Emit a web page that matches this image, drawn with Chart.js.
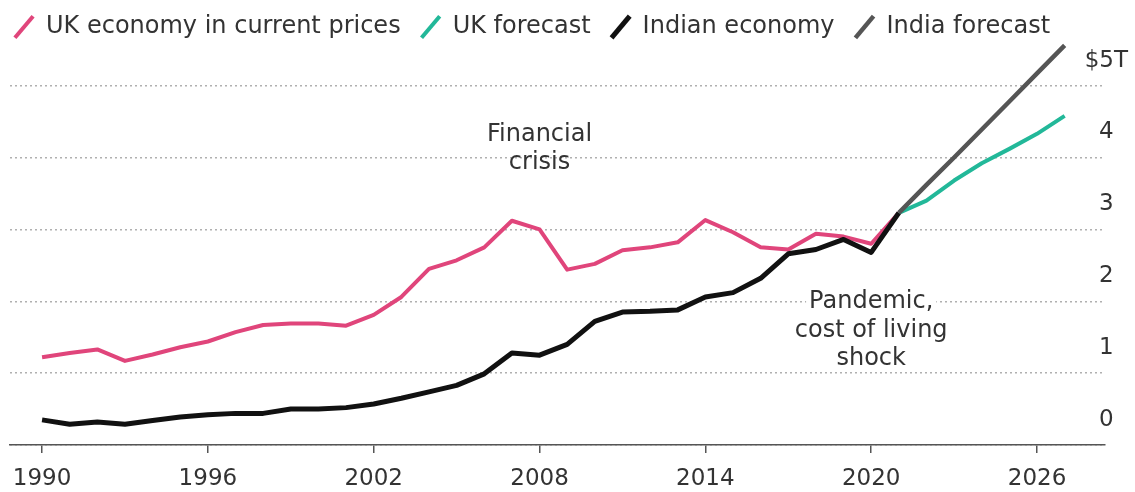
<!DOCTYPE html>
<html>
<head>
<meta charset="utf-8">
<script src="https://cdn.jsdelivr.net/npm/chart.js@4"></script>
<style>
  html, body { margin: 0; padding: 0; background: #fff; }
  #wrap { width: 1135px; height: 492px; }
</style>
</head>
<body>
<div id="wrap"><canvas id="c"></canvas></div>
<script>
// ---------- data ----------
const years = [1990,1991,1992,1993,1994,1995,1996,1997,1998,1999,2000,2001,2002,2003,2004,2005,2006,2007,2008,2009,2010,2011,2012,2013,2014,2015,2016,2017,2018,2019,2020,2021];
const ukValues = [1.22,1.28,1.33,1.17,1.26,1.36,1.44,1.57,1.67,1.69,1.69,1.66,1.81,2.06,2.45,2.57,2.75,3.12,3.00,2.44,2.52,2.71,2.75,2.82,3.13,2.96,2.75,2.72,2.94,2.90,2.80,3.23];
const indiaValues = [0.35,0.29,0.32,0.29,0.34,0.39,0.42,0.44,0.44,0.50,0.50,0.52,0.57,0.65,0.74,0.83,0.99,1.28,1.25,1.40,1.72,1.85,1.86,1.88,2.06,2.12,2.32,2.66,2.72,2.86,2.68,3.23];
const forecastYears = [2021,2022,2023,2024,2025,2026,2027];
const ukForecast = [3.23,3.40,3.68,3.92,4.12,4.33,4.58];
const indiaForecast = [3.23,3.62,4.00,4.39,4.78,5.17,5.56];
const seriesLabels = ['UK economy in current prices','UK forecast','Indian economy','India forecast'];
const xTickYears = [1990,1996,2002,2008,2014,2020,2026];
const yTickValues = [0,1,2,3,4,5];
const annotationLines = [['Financial','crisis'], ['Pandemic,','cost of living','shock']];

// ---------- styling / layout ----------
const FONT = "'DejaVu Sans', Verdana, sans-serif";
const TEXT = '#333333';
const annotationStyle = [
  { x: 2008, y: 4.32, background: false },
  { x: 2020, y: 1.99, background: true }
];

const toPoints = (xs, ys) => xs.map((x, i) => ({ x: x, y: ys[i] }));

const annotationPlugin = {
  id: 'annotations',
  afterDatasetsDraw(chart) {
    const ctx = chart.ctx;
    const xs = chart.scales.x, ys = chart.scales.y;
    const lineH = 28.5;
    ctx.save();
    ctx.font = '24px ' + FONT;
    ctx.textAlign = 'center';
    ctx.textBaseline = 'middle';
    annotationLines.forEach((lines, k) => {
      const st = annotationStyle[k];
      const cx = xs.getPixelForValue(st.x);
      const cy = ys.getPixelForValue(st.y);
      lines.forEach((t, j) => {
        const y = cy + j * lineH;
        if (st.background) {
          const w = ctx.measureText(t).width;
          ctx.fillStyle = '#fff';
          ctx.fillRect(cx - w / 2 - 3, y - 10, w + 6, 20);
        }
        ctx.fillStyle = TEXT;
        ctx.fillText(t, cx, y);
      });
    });
    ctx.restore();
  }
};

const colors = ['#e0457b', '#22b899', '#111111', '#555555'];
const widths = [4, 4, 5, 4.5];

new Chart(document.getElementById('c'), {
  type: 'line',
  data: {
    datasets: [
      { label: seriesLabels[0], data: toPoints(years, ukValues), borderColor: colors[0], borderWidth: widths[0], order: 4 },
      { label: seriesLabels[1], data: toPoints(forecastYears, ukForecast), borderColor: colors[1], borderWidth: widths[1], order: 3 },
      { label: seriesLabels[2], data: toPoints(years, indiaValues), borderColor: colors[2], borderWidth: widths[2], order: 2 },
      { label: seriesLabels[3], data: toPoints(forecastYears, indiaForecast), borderColor: colors[3], borderWidth: widths[3], order: 1 }
    ]
  },
  options: {
    responsive: true,
    maintainAspectRatio: false,
    animation: false,
    layout: { padding: { left: -6, right: 0, top: -5, bottom: 0 } },
    elements: {
      point: { radius: 0, hoverRadius: 0 },
      line: { tension: 0, borderJoinStyle: 'round', borderCapStyle: 'butt', fill: false }
    },
    datasets: { line: { clip: false } },
    plugins: {
      tooltip: { enabled: false },
      legend: {
        display: true,
        position: 'top',
        align: 'start',
        labels: {
          usePointStyle: true,
          boxWidth: 20,
          boxHeight: 20,
          padding: 20,
          color: TEXT,
          font: { family: FONT, size: 24 },
          generateLabels(chart) {
            return chart.data.datasets.map((ds, i) => ({
              text: ds.label,
              fillStyle: ds.borderColor,
              strokeStyle: ds.borderColor,
              lineWidth: ds.borderWidth,
              pointStyle: 'line',
              rotation: -50,
              hidden: false,
              datasetIndex: i,
              fontColor: TEXT
            }));
          }
        }
      }
    },
    scales: {
      x: {
        type: 'linear',
        min: 1988.84,
        max: 2028.46,
        afterBuildTicks(scale) { scale.ticks = xTickYears.map(v => ({ value: v })); },
        afterFit(scale) { scale.height = 47; scale.paddingLeft = 10; },
        grid: { display: true, drawOnChartArea: false, drawTicks: true, tickLength: 8, color: '#555', lineWidth: 1.5 },
        border: { display: true, color: '#555', width: 1.5 },
        ticks: { color: TEXT, font: { family: FONT, size: 23 }, padding: 12, maxRotation: 0, autoSkip: false, callback: v => String(v) }
      },
      y: {
        type: 'linear',
        position: 'right',
        min: 0,
        max: 5.51,
        afterBuildTicks(scale) { scale.ticks = yTickValues.map(v => ({ value: v })); },
        afterFit(scale) { scale.width = 30; },
        grid: { display: true, drawTicks: false, color: '#b0b0b0', lineWidth: 1.5 },
        border: { display: false, dash: [2, 3] },
        ticks: {
          color: TEXT,
          font: { family: FONT, size: 23 },
          mirror: true,
          padding: 23,
          crossAlign: 'center',
          labelOffset: -25,
          callback: v => (v === 5 ? '$5T' : String(v))
        }
      }
    }
  },
  plugins: [annotationPlugin]
});
</script>
</body>
</html>
